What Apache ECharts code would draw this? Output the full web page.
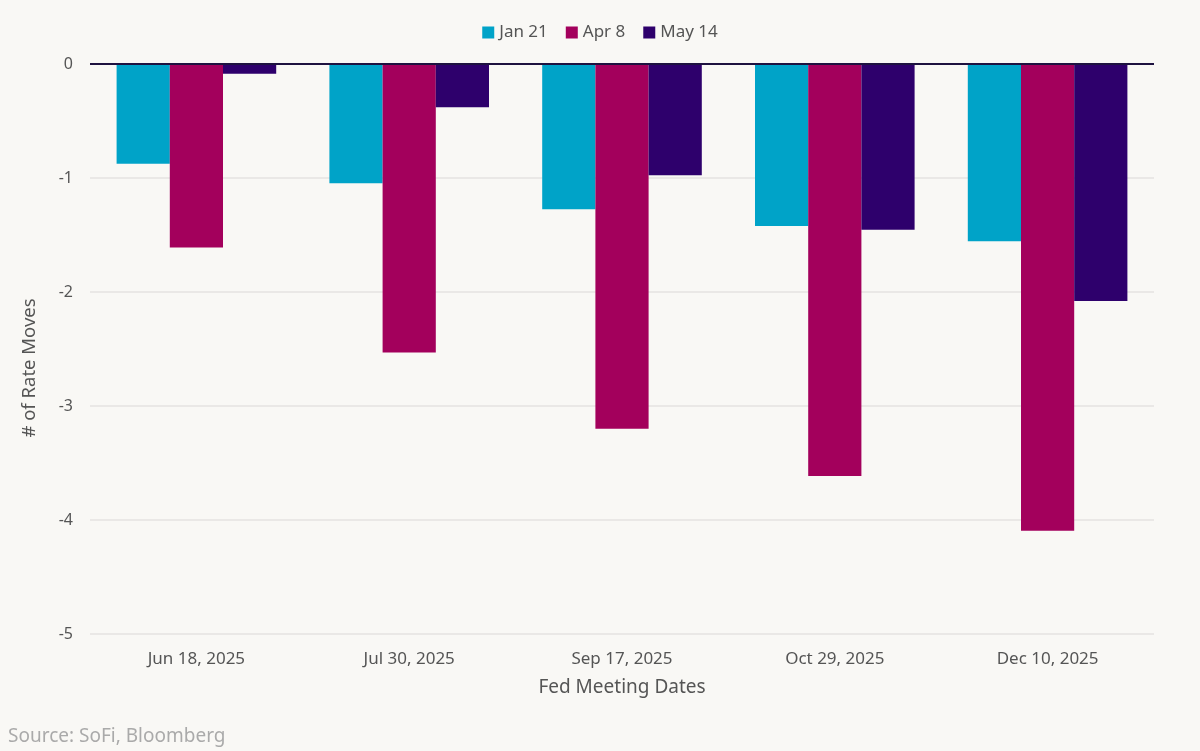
<!DOCTYPE html>
<html>
<head>
<meta charset="utf-8">
<script src="https://cdn.jsdelivr.net/npm/echarts@6/dist/echarts.min.js"></script>
<style>
html,body{margin:0;padding:0;background:#f9f8f5;}
#chart{width:1200px;height:751px;}
</style>
</head>
<body>
<div id="chart"></div>
<script>
const categories = ["Jun 18, 2025", "Jul 30, 2025", "Sep 17, 2025", "Oct 29, 2025", "Dec 10, 2025"];
const seriesNames = ["Jan 21", "Apr 8", "May 14"];
const jan21 = [-0.875, -1.045, -1.275, -1.42, -1.555];
const apr8 = [-1.61, -2.53, -3.2, -3.615, -4.095];
const may14 = [-0.085, -0.38, -0.975, -1.455, -2.08];
const colors = ["#00a3c8", "#a3005c", "#2e006c"];

const chart = echarts.init(document.getElementById('chart'));
const font = "Noto Sans";
chart.setOption({
  backgroundColor: "#f9f8f5",
  color: colors,
  textStyle: {fontFamily: font},
  legend: {
    top: 19, left: 'center', itemWidth: 12, itemHeight: 12, itemGap: 18,
    icon: 'rect',
    textStyle: {fontSize: 17, color: '#555', fontFamily: font},
    data: seriesNames
  },
  graphic: [
    {type: 'text', left: 8, top: 727,
     style: {text: 'Source: SoFi, Bloomberg', fontSize: 19, fill: '#aaaaaa', fontFamily: font}},
    {type: 'text', x: 30, y: 368, rotation: Math.PI / 2,
     style: {text: '# of Rate Moves', fontSize: 18.5, fill: '#555', fontFamily: font,
             align: 'center', verticalAlign: 'middle'}},
    {type: 'text', x: 622, y: 688,
     style: {text: 'Fed Meeting Dates', fontSize: 19, fill: '#555', fontFamily: font,
             align: 'center', verticalAlign: 'middle'}}
  ],
  grid: {left: 90, right: 46, top: 64, bottom: 117},
  xAxis: [
    {type: 'category', data: categories, axisLine: {show: false}, axisTick: {show: false}, axisLabel: {show: false}},
    {type: 'category', data: categories, position: 'bottom', axisLine: {show: false}, axisTick: {show: false},
     axisLabel: {fontSize: 17, color: '#555', margin: 17, fontFamily: font}}
  ],
  yAxis: {
    type: 'value', min: -5, max: 0, interval: 1,
    axisLabel: {fontSize: 16, color: '#555', margin: 17, fontFamily: font},
    axisLine: {show: false}, axisTick: {show: false},
    splitLine: {lineStyle: {color: '#e4e3e1', width: 1.5}}
  },
  series: [
    {name: seriesNames[0], type: 'bar', data: jan21, barGap: '0%', barCategoryGap: '25%'},
    {name: seriesNames[1], type: 'bar', data: apr8, barGap: '0%', barCategoryGap: '25%'},
    {name: seriesNames[2], type: 'bar', data: may14, barGap: '0%', barCategoryGap: '25%',
     markLine: {silent: true, symbol: 'none', label: {show: false},
       lineStyle: {color: '#1e1240', width: 2, type: 'solid'}, data: [{yAxis: 0}]}}
  ]
});
</script>
</body>
</html>
